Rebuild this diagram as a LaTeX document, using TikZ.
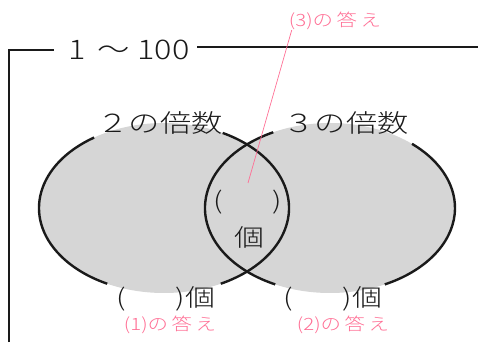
\documentclass[tikz,border=0pt]{standalone}
\usepackage{fontspec}
\setmainfont{Noto Sans CJK JP Light}
\usepackage{tikz}
\usetikzlibrary{positioning}
\definecolor{ink}{HTML}{1A1A1A}
\definecolor{venngray}{HTML}{D6D6D6}
\definecolor{anspink}{HTML}{FF6E94}
\newcommand{\wide}[2][1.25]{\scalebox{#1}[1]{#2}}
\tikzset{
  every node/.style={text=ink, inner sep=0pt},
  frameline/.style={line width=2.8pt, draw=ink},
  outline/.style={line width=2.4pt, draw=ink},
  vennfill/.style={fill=venngray},
  setlabel/.style={font=\fontsize{25}{28}\selectfont},
  countlabel/.style={font=\fontsize{24}{28}\selectfont},
  anslabel/.style={font=\fontsize{17}{19}\selectfont, text=anspink},
  ansline/.style={draw=anspink, line width=0.7pt},
}

\begin{document}
\begin{tikzpicture}[x=1pt, y=1pt]
  \useasboundingbox (0,0) rectangle (478,342);

  % =====================================================================
  % frame with range label
  % =====================================================================
  \node[setlabel, font=\fontsize{27}{30}\selectfont] (range) at (129, 292)
    {\wide[1.2]{1\hspace{10pt}～\hspace{6pt}100}};
  \draw[frameline] (9,0) |- (range.west -| 54,295);
  \draw[frameline] (197,295) -- (478,295);

  % =====================================================================
  % the two sets (fill first, then the broken outlines)
  % =====================================================================
  \coordinate (c2) at (164,134);
  \coordinate (c3) at (330,134);
  \fill[vennfill] (c2) ellipse[x radius=125, y radius=85];
  \fill[vennfill] (c3) ellipse[x radius=125, y radius=85];

  % multiples of 2
  \draw[outline] ([shift={(124:125 and 85)}]c2)
    arc[start angle=124, end angle=243, x radius=125, y radius=85];
  \draw[outline] ([shift={(297:125 and 85)}]c2)
    arc[start angle=297, end angle=422, x radius=125, y radius=85];
  % multiples of 3
  \draw[outline] ([shift={(117:125 and 85)}]c3)
    arc[start angle=117, end angle=244, x radius=125, y radius=85];
  \draw[outline] ([shift={(296:125 and 85)}]c3)
    arc[start angle=296, end angle=409, x radius=125, y radius=85];

  \node[setlabel] (set2) at (160,219) {\wide{２の倍数}};
  \node[setlabel] (set3) at (346,219) {\wide{３の倍数}};

  % =====================================================================
  % answer boxes
  % =====================================================================
  \node[countlabel] (both) at (248,140) {\wide{(\hspace{40pt})}};
  \node[countlabel] (bothunit) at (249,105) {\wide{個}};
  \node[countlabel] (only2) at (166,43) {\wide{(\hspace{40pt})個}};
  \node[countlabel] (only3) at (333,43) {\wide{(\hspace{40pt})個}};

  % pink hints
  \node[anslabel] (ans1) at (170,17) {\wide[1.2]{(1)の\hspace{3pt}答\hspace{3pt}え}};
  \node[anslabel] (ans2) at (343,17) {\wide[1.2]{(2)の\hspace{3pt}答\hspace{3pt}え}};
  \node[anslabel] (ans3) at (335,321) {\wide[1.2]{(3)の\hspace{3pt}答\hspace{3pt}え}};
  \coordinate (tip3) at (248,159);
  \draw[ansline] ([xshift=3pt]ans3.south west) -- (tip3);

\end{tikzpicture}
\end{document}
